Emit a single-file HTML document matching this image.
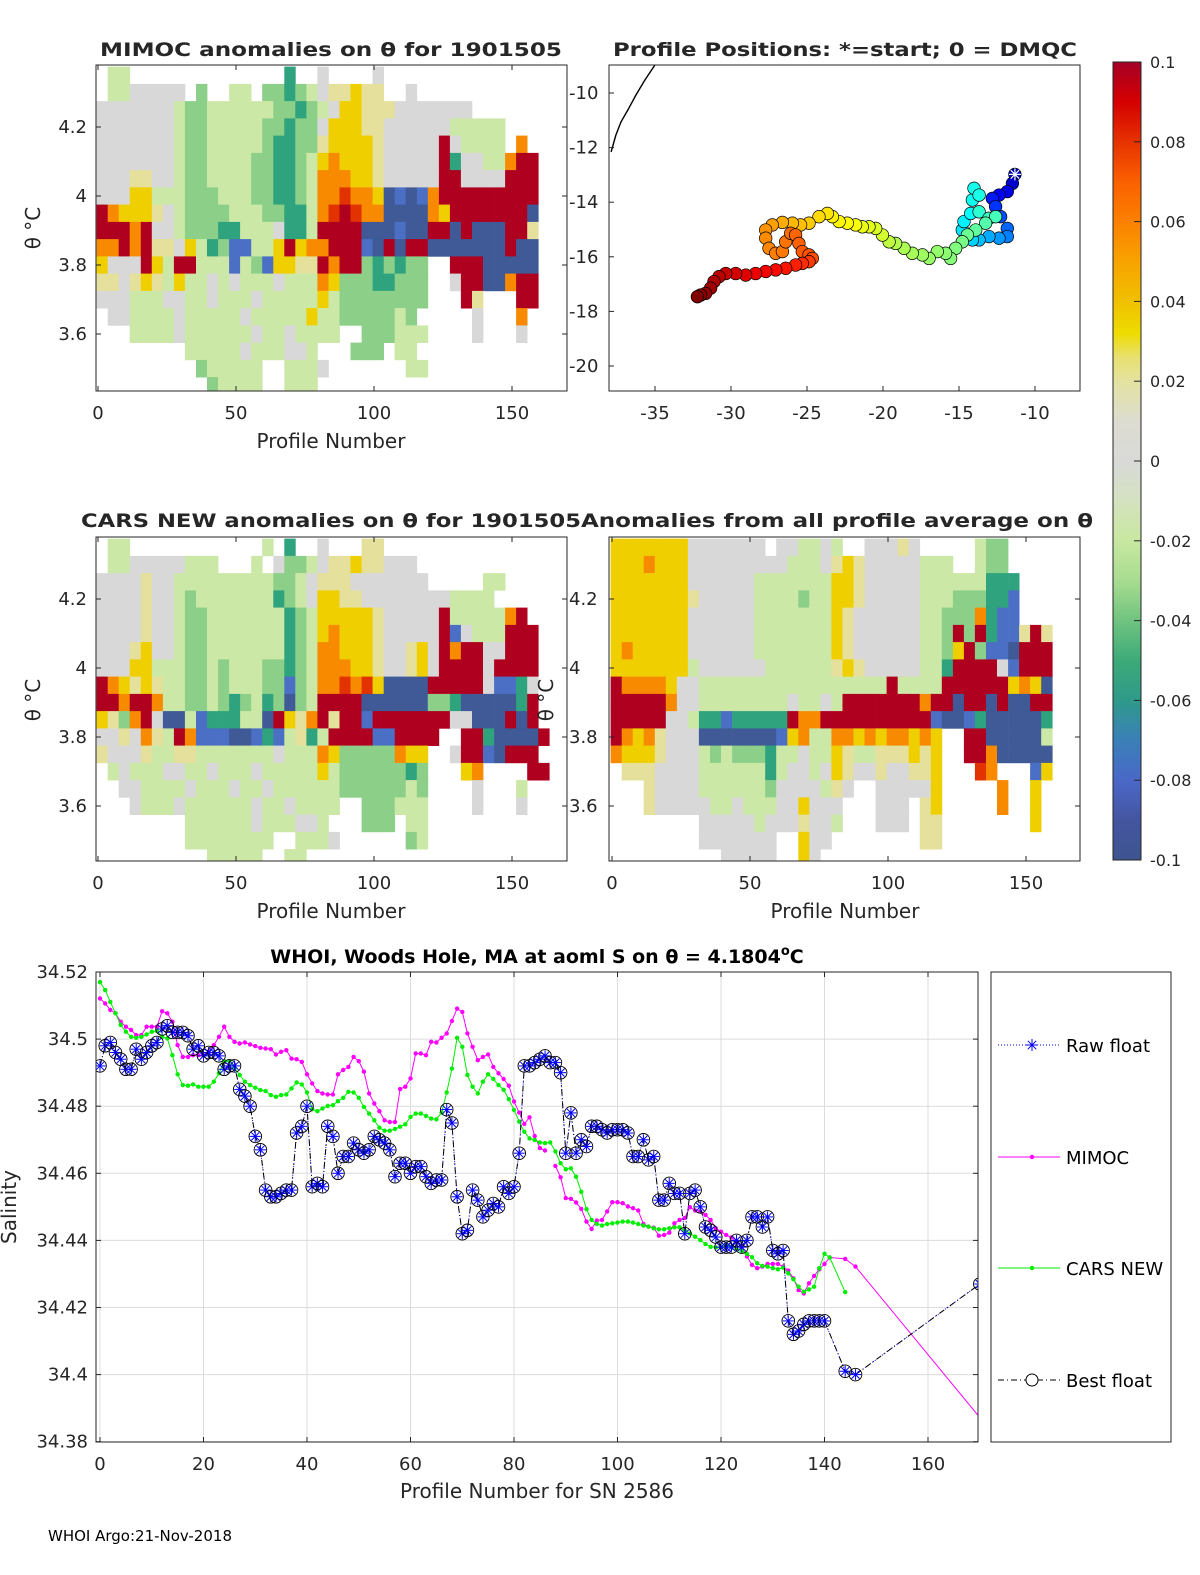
<!DOCTYPE html>
<html><head><meta charset="utf-8"><style>
html,body{margin:0;padding:0;background:#fff;}
svg{display:block;font-family:"DejaVu Sans","Liberation Sans",sans-serif;}
</style></head><body>
<svg id="fig" width="1200" height="1575" viewBox="0 0 1200 1575" xmlns="http://www.w3.org/2000/svg">
<defs>
<clipPath id="c1"><rect x="96" y="65" width="471" height="326"/></clipPath>
<clipPath id="c2"><rect x="609" y="65" width="471" height="326"/></clipPath>
<clipPath id="c3"><rect x="96" y="537" width="471" height="324"/></clipPath>
<clipPath id="c4"><rect x="609" y="537" width="471" height="324"/></clipPath>
<clipPath id="c5"><rect x="96" y="972" width="882" height="470"/></clipPath>
<linearGradient id="cbg" x1="0" y1="0" x2="0" y2="1">
<stop offset="0" stop-color="#a50026"/><stop offset="0.05" stop-color="#d40000"/><stop offset="0.1" stop-color="#e63200"/>
<stop offset="0.15" stop-color="#fb6000"/><stop offset="0.2" stop-color="#fb8000"/><stop offset="0.25" stop-color="#f8a300"/>
<stop offset="0.3" stop-color="#f0c000"/><stop offset="0.34" stop-color="#eedc00"/><stop offset="0.37" stop-color="#e8e070"/>
<stop offset="0.4" stop-color="#e4e2a0"/><stop offset="0.45" stop-color="#dcdcd0"/><stop offset="0.5" stop-color="#d9d9d9"/>
<stop offset="0.55" stop-color="#d4e2c0"/><stop offset="0.6" stop-color="#c8e8a0"/><stop offset="0.65" stop-color="#a8dc90"/>
<stop offset="0.7" stop-color="#70c480"/><stop offset="0.75" stop-color="#3daa78"/><stop offset="0.8" stop-color="#2f9a8a"/>
<stop offset="0.85" stop-color="#3a80b8"/><stop offset="0.9" stop-color="#4a68c8"/><stop offset="0.95" stop-color="#4455a0"/>
<stop offset="1" stop-color="#3e5590"/></linearGradient>
</defs>
<g id="layer"></g>
</svg>
<script>
// ---------- data: heatmap grids (rows: theta bins of 0.05 from 4.375 down; cols: 4 profiles each) ----------
const mimocGrid = [
".gg..............T..G....G..............",
".ggGGGGG.h..gg.hhThgGllYll..G...........",
"GGGGGGGghhgggggghhThgGYYlllGGGGGGG......",
"GGGGGGGghhggggghhThhGYYYllGGGGGGggggg...",
"GGGGGGGghhggggghTThhlYYYYlGGGGGRGgggg.O.",
"GGGGGGGghhgggghhTThgYOYYYlGGGGGRTGGggORR",
"GGGllGGghhgggghhTThgOOOYYlGGGGGRRGGGGRRR",
"GGGYYggghhhggghhTThgOOrOOYBbBbORRRRRRRRR",
"ROYYYlGghhhhggghhTTgOrRrOOBBBBOYRRRRRRRB",
"RRRORGGghhhTTgggGTTgRRRRBBBbBBRRBRBBBRRl",
"OOROR lGYgThbbggYRYOORRRbBRBRRBBBBBBBRBB".replace(' ','l'),
"YGGGRYgRRgggbghbYYllRORRhThThh..RRRBBBBB",
"llGlYlgYggGgGgggGgggOYhhhTThhh..GRRBBORR",
"GGGgggGGggGgggGgggggYghhhhhhhh...Rl...RR",
".GGggggGgggggGgggggYgghhhhhgh.....G...O.",
"...ggggGggggggGggGgggg..hhhggg....G...G.",
"........gggggGgggGGg...hhh.gg...........",
".........hggggg..gggG.......gg..........",
"..........hgggg..ggg...................."
];
const carsGrid = [
".gg............g.T..G...ll..............",
".ggGGGGGggg...g.GhhgGllYllGGG...........",
"GGGGlGGggggggggghhgGlllGGGGGGG.....gg...",
"GGGGlGGghgggggggThgGYYllGGGGGGGGgggg....",
"GGGGlGGghhgggggggThgYYYYYlGGGGGRgggggOR.",
"GGGGlGGghhgggggggThgYOYYYlGGGGGRbGgggRRR",
"GGGlYGGghhgggggggThgOOYYYlGGlYGRORRGGRRR",
"GGGYYggghhghggghhThgOOOYYlGGlYGRRRRGRRRR",
"ROYlYlgghhghggghhbhgOOrOrYBBBBRRRRRGbbTG",
"RRORROgghhghThgThBhgRRRRBBBBBBhhTBBBBBTR",
"YlhORGBBgbTTTggBRYlORlRRbRRRRRRRGGBBBRBR",
"GGlGOlgROb bBBbTbglTgRRRRbbRRRR..RRTBBBBR".replace(' ','b'),
"lGGGlgglLgggggggGgggOYhhhhhOYY..GRRbBRRR".replace('L','l'),
".gGgggGGggGgggGgggggYghhhhhhTh...YO....RR",
"..GGggggGgggGggGgggggghhhhhhgh....G...g.",
"...GgggGggggggGggGgggg..hhhggg....G...G.",
"........ggggggGgggGGg...hhh.gg..........",
"........gggggggg..gggG......hg..........",
"..........ggggg..gg....................."
];
const allGrid = [
"YYYYYYYGGGGGGG.GGggGg..GGGlG.....ghh....",
"YYYOYYYGGGGGGGGGgggGlYlGGGGGggg..ghh....",
"YYYYYYYGGGGGGggggggg YlGGGGGggggggTTT...".replace(' ','Y'),
"YYYYYYYlGGGGGgggghggYYlGGGGGggghhhTTb...",
"YYYYYYYGGGGGGgggggggYlGGGGGGgghhhOTbb...",
"YYYYYYYGGGGGGgggggggYlGGGGGGgghRhRTbblRl",
"YOYYYYYGGGGGGgggggggYlGGGGGGgghYRhbbBRRR",
"YYYYYYYgGGGGGGggggggl YlGGGGGggTRRRRGbRRR".replace(' ',''),
"ROOOOYGGgggggggggggggggggRggggRRRRRRYOYB",
"RRRRROGGggggggggGggGgRRRRRRROR RBRRBRBBRR".replace(' ',''),
"RRRRRGGgTTbTTTTTROORRRRRRRRRRbBBbTBBBBBT",
"ROYOlGGGBBBBBBBbYOggOOYOYOOYOY..RRBBBBBg",
"OYYYlGGGghghhhTggGggYlgglllYlY..RROBBBBB",
".lllGGGGggggggTgGGgGYlGGlGGllY...rO...bY",
"...lGGGGggggggh GGGGglG..GGGGGY.....O..Y.".replace(' ',''),
"...lGGGGGggGgggGGYGGG...GGGllY.....O..Y.".replace('llY','.lY'),
"........GGGGGgGGGlGGg...GGG.ll........Y.",
"........GGGGGGG..YGG........ll..........",
"..........GGGGG..YG....................."
];
const cellColors = {R:"#b00020",r:"#e23200",O:"#f88a00",Y:"#f0cf00",l:"#e5e09c",G:"#d8d8d8",g:"#cce8a6",h:"#8ccf88",T:"#2fa37e",b:"#4a6fc4",B:"#3f5a96"};
const heatTicksX = [0,50,100,150];
const heatTicksY = [3.6,3.8,4.0,4.2];
const heatTickLabelsY = ["3.6","3.8","4","4.2"];

// ---------- data: map ----------
const trackLon = [-11.32,-11.49,-11.82,-12.37,-12.81,-12.59,-12.26,-11.82,-11.82,-12.37,-13.03,-13.68,-14.12,-14.78,-14.67,-14.23,-14.12,-14.01,-13.68,-13.68,-13.03,-12.59,-13.25,-13.90,-14.45,-14.78,-15.22,-15.55,-15.88,-16.43,-16.97,-17.41,-18.07,-18.62,-19.17,-19.60,-20.04,-20.48,-20.92,-21.36,-21.80,-22.35,-22.89,-23.33,-23.66,-24.21,-24.87,-25.42,-25.96,-26.62,-27.28,-27.72,-27.72,-27.50,-27.06,-26.62,-26.40,-26.07,-25.75,-25.53,-25.31,-24.87,-24.65,-24.87,-25.31,-25.75,-26.40,-27.06,-27.72,-28.38,-29.03,-29.69,-30.35,-30.79,-31.12,-31.34,-31.67,-32.00,-32.21];
const trackLat = [-12.98,-13.31,-13.61,-13.74,-13.86,-14.16,-14.53,-14.96,-15.26,-15.32,-15.26,-15.38,-15.38,-15.02,-14.71,-14.41,-13.92,-13.49,-13.74,-14.35,-14.59,-14.53,-14.77,-15.02,-15.20,-15.45,-15.69,-16.06,-15.87,-15.81,-16.06,-15.93,-15.87,-15.69,-15.51,-15.45,-15.20,-14.96,-14.90,-14.90,-14.83,-14.77,-14.71,-14.53,-14.41,-14.53,-14.77,-14.83,-14.77,-14.74,-14.83,-15.02,-15.32,-15.69,-15.87,-15.81,-15.45,-15.14,-15.20,-15.51,-15.81,-15.93,-16.06,-16.18,-16.24,-16.30,-16.42,-16.48,-16.54,-16.61,-16.67,-16.61,-16.61,-16.73,-16.91,-17.15,-17.34,-17.40,-17.46];
const trackProfile = [8,12,16,20,24,28,32,36,40,44,47,50,53,
56,58,60,62,63,64,
67,69,71,73,75,77,79,
80,81,82,83,84,85,86,87,88,90,
93,94,96,97,99,100,101,102,104,
106,108,110,111,113,115,
117,118,119,120,121,122,123,124,125,126,127,128,
131,133,135,137,139,141,143,145,147,149,151,153,155,157,159,160];
const coastLon = [-35.0,-35.66,-36.25,-36.78,-37.24,-37.57,-37.89];
const coastLat = [-8.97,-9.52,-10.07,-10.62,-11.06,-11.54,-12.16];
const mapTicksX = [-35,-30,-25,-20,-15,-10];
const mapTicksY = [-10,-12,-14,-16,-18,-20];

// ---------- data: colorbar ----------
const cbTicks = [0.1,0.08,0.06,0.04,0.02,0,-0.02,-0.04,-0.06,-0.08,-0.1];
const cbLabels = ["0.1","0.08","0.06","0.04","0.02","0","-0.02","-0.04","-0.06","-0.08","-0.1"];

// ---------- data: salinity time series ----------
const bestS = [34.492,34.498,34.499,34.496,34.494,34.491,34.491,34.497,34.494,34.496,34.498,34.499,34.503,34.504,34.502,34.502,34.502,34.501,34.497,34.498,34.495,34.496,34.496,34.495,34.491,34.492,34.492,
34.485,34.483,34.480,34.471,34.467,34.455,34.453,34.453,34.454,34.455,34.455,34.472,34.474,34.480,34.456,34.457,34.456,34.474,34.471,34.460,34.465,34.465,34.469,34.467,34.466,34.467,34.471,34.470,34.469,34.467,34.459,34.463,34.463,34.460,34.462,34.462,34.459,34.457,34.458,34.458,34.479,34.475,34.453,34.442,34.443,34.455,34.452,34.447,34.449,34.451,34.450,34.456,34.454,34.456,34.466,34.492,34.492,34.493,34.494,34.495,34.493,34.493,34.490,34.466,34.478,34.466,34.470,34.468,34.474,34.474,34.473,34.472,34.473,34.473,34.473,34.472,34.465,34.465,34.470,34.464,34.465,34.452,34.452,34.457,34.454,34.454,34.442,34.454,34.455,34.450,34.444,34.443,34.441,34.438,34.438,34.438,34.440,34.438,34.440,34.447,34.447,34.444,34.447,34.437,34.436,34.437,34.416,34.412,34.413,34.415,34.416,34.416,34.416,34.416];
const bestTailP = [144,146,170];
const bestTailS = [34.401,34.400,34.427];
const mimocS = [34.5121,34.5106,34.5087,34.5077,34.5052,34.5037,34.5027,34.5012,34.5012,34.5037,34.5037,34.5037,34.5083,34.5077,34.5052,34.4982,34.4947,34.4947,34.4952,34.4952,34.4952,34.4962,34.4982,34.5007,34.5037,34.5007,34.4992,34.4987,34.4990,34.4984,34.4979,34.4974,34.4972,34.4970,34.4954,34.4962,34.4967,34.4942,34.4940,34.4932,34.4895,34.4868,34.4845,34.4838,34.4835,34.4835,34.4895,34.4908,34.4917,34.4947,34.4934,34.4903,34.4838,34.4808,34.4785,34.4758,34.4753,34.4753,34.4851,34.4858,34.4883,34.4957,34.4957,34.4952,34.4992,34.4990,34.5004,34.5017,34.5054,34.5091,34.5081,34.5017,34.4977,34.4937,34.4947,34.4954,34.4917,34.4898,
34.4881,34.4861,34.4814,34.4781,34.4747,34.4767,34.4711,34.4675,34.4668,null,34.4622,34.4588,34.4526,34.4524,34.4513,34.4494,34.4456,34.4434,34.4459,34.4461,34.4486,34.4514,34.4514,34.4511,34.4501,34.4496,34.4489,34.4449,34.4441,34.4438,34.4414,34.4416,34.4423,34.4451,34.4461,34.4467,34.4499,34.4489,34.4486,34.4476,34.4461,34.4436,34.4426,34.4416,34.4409,34.4396,34.4379,34.4352,34.4327,34.4317,34.4322,34.4330,34.4330,34.4330,34.4322,34.4310,34.4287,34.4252,34.4242,34.4272,34.4294,34.4314,34.4330,34.4349];
const mimocTailP = [144,146,170];
const mimocTailS = [34.4345,34.4322,34.3872];
const carsS = [34.517,34.5146,34.5111,34.5077,34.5042,34.5022,34.5007,34.5004,34.5007,34.5014,34.5022,34.5024,34.5007,34.5002,34.4952,34.4895,34.4863,34.4861,34.4865,34.4858,34.4858,34.4858,34.4873,34.4898,34.4934,34.4934,34.4914,34.4893,34.4873,34.4863,34.4855,34.4848,34.4845,34.4833,34.4828,34.4833,34.4835,34.4853,34.4871,34.4865,34.4841,34.4791,34.4785,34.4793,34.4801,34.4803,34.4815,34.4825,34.4843,34.4841,34.4825,34.4798,34.4778,34.4758,34.4736,34.4727,34.4727,34.4732,34.4739,34.4746,34.4768,34.4778,34.4778,34.4771,34.4763,34.4761,34.4781,34.4841,34.4912,34.5004,34.4977,34.4893,34.4858,34.4838,34.4873,34.4895,34.4881,34.4863,
34.4849,34.4821,34.4789,34.4754,34.4724,34.4704,34.4699,34.4692,34.4690,34.4692,34.4665,34.4630,34.4612,34.4615,34.4590,34.4545,34.4493,34.4461,34.4449,34.4444,34.4449,34.4451,34.4453,34.4456,34.4456,34.4453,34.4449,34.4444,34.4441,34.4436,34.4433,34.4433,34.4436,34.4439,34.4439,34.4429,34.4421,34.4411,34.4401,34.4389,34.4381,34.4379,34.4379,34.4386,34.4381,34.4376,34.4369,34.4360,34.4350,34.4332,34.4324,34.4322,34.4317,34.4314,34.4319,34.4302,34.4284,34.4262,34.4247,34.4254,34.4262,34.4317,34.4360,34.4349];
const carsTailP = [144];
const carsTailS = [34.4246];
const salTicksX = [0,20,40,60,80,100,120,140,160];
const salTicksY = [34.38,34.40,34.42,34.44,34.46,34.48,34.50,34.52];
const salTickLabelsY = ["34.38","34.4","34.42","34.44","34.46","34.48","34.5","34.52"];

// ---------- drawing ----------
const NS = "http://www.w3.org/2000/svg";
const root = document.getElementById('layer');
function mk(tag, attrs, parent){
  const e = document.createElementNS(NS, tag);
  for (const k in attrs) e.setAttribute(k, attrs[k]);
  (parent||root).appendChild(e);
  return e;
}
function txt(str, x, y, size, opts, parent){
  opts = opts||{};
  const t = mk('text', {x:x, y:y, 'font-size':size, fill:'#262626', 'text-anchor':opts.anchor||'start'}, parent);
  if (opts.weight) t.setAttribute('font-weight', opts.weight);
  if (opts.rot) t.setAttribute('transform', 'rotate(-90 '+x+' '+y+')');
  if (opts.len) { t.setAttribute('textLength', opts.len); t.setAttribute('lengthAdjust','spacingAndGlyphs'); }
  t.textContent = str;
  return t;
}

function heatPanel(name, grid, clip, box, xS, yS, showYLeft, ylabX, ylabY){
  const g = mk('g', {'clip-path':'url(#'+clip+')'});
  
  
  grid.forEach((row, i) => {
    const tTop = 4.375 - 0.05*i, tBot = tTop - 0.05;
    for (let c = 0; c < row.length; c++) {
      const ch = row[c];
      if (!cellColors[ch]) continue;
      const x0 = xS(4*c - 0.5), x1 = xS(4*c + 3.5);
      const r = mk('rect', {x:x0.toFixed(1), y:yS(tTop).toFixed(1), width:(x1-x0+0.4).toFixed(1), height:(yS(tBot)-yS(tTop)+0.4).toFixed(1), fill:cellColors[ch]}, g);
      
      
    }
  });
  axesBox(name, box);
  heatTicksX.forEach(v => {
    const x = xS(v);
    mk('line', {x1:x, x2:x, y1:box.y+box.h, y2:box.y+box.h-5, stroke:'#262626', 'stroke-width':1});
    mk('line', {x1:x, x2:x, y1:box.y, y2:box.y+5, stroke:'#262626', 'stroke-width':1});
    const t = txt(String(v), x, box.y+box.h+28, 18, {anchor:'middle'});
    
    
  });
  heatTicksY.forEach((v, k) => {
    const y = yS(v);
    mk('line', {x1:box.x, x2:box.x+5, y1:y, y2:y, stroke:'#262626', 'stroke-width':1});
    mk('line', {x1:box.x+box.w, x2:box.x+box.w-5, y1:y, y2:y, stroke:'#262626', 'stroke-width':1});
    const t = showYLeft ? txt(heatTickLabelsY[k], box.x-9, y+6, 18, {anchor:'end'}) : txt(heatTickLabelsY[k], box.x-40, y+6, 18, {anchor:'start'});
    
    
  });
  const yl = txt('θ °C', ylabX, ylabY, 20, {anchor:'middle', rot:true});
  
  
}
function axesBox(name, box){
  const r = mk('rect', {x:box.x, y:box.y, width:box.w, height:box.h, fill:'none', stroke:'#262626', 'stroke-width':1});
  
  
}

// panel 1: MIMOC
const xS1 = p => 98 + 2.76*p;
const yS1 = t => 127 + (4.2 - t)*345;
heatPanel('mimoc', mimocGrid, 'c1', {x:96,y:65,w:471,h:326}, xS1, yS1, true, 40, 228);
// panel 3: CARS
const yS3 = t => 599 + (4.2 - t)*345;
heatPanel('cars', carsGrid, 'c3', {x:96,y:537,w:471,h:324}, xS1, yS3, true, 40, 700);
// panel 4: all-profile average
const xS4 = p => 612 + 2.76*p;
heatPanel('all-average', allGrid, 'c4', {x:609,y:537,w:471,h:324}, xS4, yS3, false, 553, 700);

// titles & x labels
[['mimoc-title','MIMOC anomalies on θ  for 1901505',331,56,462],
 ['map-title','Profile Positions: *=start; 0 = DMQC',845,56,464],
 ['cars-title','CARS NEW anomalies on θ for 1901505',331,527,500],
 ['all-average-title','Anomalies from all profile average on θ',837,527,512]].forEach(a=>{
  const t = txt(a[1], a[2], a[3], 19, {anchor:'middle', weight:'bold', len:a[4]});
  
  
});
[['mimoc-x-axis-title',331,448],['cars-x-axis-title',331,918],['all-average-x-axis-title',845,918]].forEach(a=>{
  const t = txt('Profile Number', a[1], a[2], 20, {anchor:'middle'});
  
  
});

// panel 2: map
const lonS = lon => 655 + (lon + 35)*15.2;
const latS = lat => 93 + (-10 - lat)*27.3;
const mapBox = {x:609,y:65,w:471,h:326};
const mg = mk('g', {'clip-path':'url(#c2)'});


const coast = mk('polyline', {points: coastLon.map((v,i)=>lonS(v).toFixed(1)+','+latS(coastLat[i]).toFixed(1)).join(' '), fill:'none', stroke:'#000', 'stroke-width':1.4}, mg);


function jet(t){
  const f = x => Math.max(0, Math.min(1, x));
  const r = f(Math.min(4*t - 1.5, -4*t + 4.5));
  const g = f(Math.min(4*t - 0.5, -4*t + 3.5));
  const b = f(Math.min(4*t + 0.5, -4*t + 2.5));
  return 'rgb('+Math.round(r*255)+','+Math.round(g*255)+','+Math.round(b*255)+')';
}
const maxProf = 160;
trackLon.forEach((lon, i) => {
  const c = mk('circle', {cx:lonS(lon).toFixed(1), cy:latS(trackLat[i]).toFixed(1), r:6.3, fill:jet(trackProfile[i]/maxProf), stroke:'#000', 'stroke-width':0.7}, mg);
  
  
});
{
  const sx = lonS(trackLon[0]), sy = latS(trackLat[0]);
  const st = mk('g', {stroke:'#fff', 'stroke-width':1.2}, mg);
  
  
  [[0,6],[6,0],[4.2,4.2],[4.2,-4.2]].forEach(d=>mk('line',{x1:sx-d[0],y1:sy-d[1],x2:sx+d[0],y2:sy+d[1]},st));
}
axesBox('map', mapBox);
mapTicksX.forEach(v => {
  const x = lonS(v);
  mk('line', {x1:x, x2:x, y1:391, y2:386, stroke:'#262626'});
  const t = txt(String(v), x, 419, 18, {anchor:'middle'});
  
  
});
mapTicksY.forEach(v => {
  const y = latS(v);
  mk('line', {x1:609, x2:614, y1:y, y2:y, stroke:'#262626'});
  const t = txt(String(v), 569, y+6, 18, {anchor:'start'});
  
  
});

// colorbar
const cbY = v => 62 + (0.1 - v)*3990;
const cb = mk('rect', {x:1113, y:62, width:28, height:798, fill:'url(#cbg)', stroke:'#262626', 'stroke-width':1});


cbTicks.forEach((v,k) => {
  const y = cbY(v);
  mk('line', {x1:1134, x2:1141, y1:y, y2:y, stroke:'#262626'});
  const t = txt(cbLabels[k], 1150, y+6, 16, {});
  
  
});

// bottom salinity chart
const xS5 = p => 100 + 5.175*p;
const yS5 = s => 972 + (34.52 - s)*3355;
const box5 = {x:96,y:972,w:882,h:470};
const grid5 = mk('g', {stroke:'#dcdcdc', 'stroke-width':1});


salTicksX.forEach(v => mk('line', {x1:xS5(v), x2:xS5(v), y1:972, y2:1442}, grid5));
salTicksY.forEach(v => mk('line', {x1:96, x2:978, y1:yS5(v), y2:yS5(v)}, grid5));
const sg = mk('g', {'clip-path':'url(#c5)'});


function seriesPts(vals, tailP, tailS){
  const segs = []; let cur = [];
  vals.forEach((v,i) => { if (v === null) { if (cur.length) segs.push(cur); cur = []; } else cur.push([xS5(i), yS5(v)]); });
  tailP.forEach((p,k) => cur.push([xS5(p), yS5(tailS[k])]));
  if (cur.length) segs.push(cur);
  return segs;
}
function drawLine(name, segs, color, dash, width){
  segs.forEach(seg => {
    const l = mk('polyline', {points: seg.map(q=>q[0].toFixed(1)+','+q[1].toFixed(1)).join(' '), fill:'none', stroke:color, 'stroke-width':width||1}, sg);
    if (dash) l.setAttribute('stroke-dasharray', dash);
    
    
  });
}
const mimocSegs = seriesPts(mimocS, mimocTailP, mimocTailS);
drawLine('mimoc', mimocSegs, '#ff00ff');
mimocSegs.flat().forEach(q => {
  const c = mk('circle', {cx:q[0].toFixed(1), cy:q[1].toFixed(1), r:2.2, fill:'#ff00ff'}, sg);
  
  
});
const carsSegs = seriesPts(carsS, carsTailP, carsTailS);
drawLine('cars', carsSegs, '#00ee00');
carsSegs.flat().forEach(q => {
  const c = mk('circle', {cx:q[0].toFixed(1), cy:q[1].toFixed(1), r:2.2, fill:'#00ee00'}, sg);
  
  
});
const bestSegs = seriesPts(bestS, bestTailP, bestTailS);
drawLine('raw-float', bestSegs, '#0000ff', '1,2');
drawLine('best-float', bestSegs, '#000', '6,3,1,3');
bestSegs.flat().forEach(q => {
  const m = mk('g', {}, sg);
  
  
  mk('circle', {cx:q[0].toFixed(1), cy:q[1].toFixed(1), r:6.3, fill:'none', stroke:'#000', 'stroke-width':0.9}, m);
  const a = mk('g', {stroke:'#0000ff', 'stroke-width':1}, m);
  [[0,5.5],[5.5,0],[4,4],[4,-4]].forEach(d=>mk('line',{x1:q[0]-d[0],y1:q[1]-d[1],x2:q[0]+d[0],y2:q[1]+d[1]},a));
});
axesBox('salinity', box5);
salTicksX.forEach(v => {
  const x = xS5(v);
  mk('line', {x1:x, x2:x, y1:1442, y2:1437, stroke:'#262626'});
  mk('line', {x1:x, x2:x, y1:972, y2:977, stroke:'#262626'});
  const t = txt(String(v), x, 1470, 18, {anchor:'middle'});
  
  
});
salTicksY.forEach((v,k) => {
  const y = yS5(v);
  mk('line', {x1:96, x2:101, y1:y, y2:y, stroke:'#262626'});
  mk('line', {x1:978, x2:973, y1:y, y2:y, stroke:'#262626'});
  const t = txt(salTickLabelsY[k], 88, y+6, 18, {anchor:'end'});
  
  
});
</script>
<script>
(function(){
  const NS="http://www.w3.org/2000/svg";
  const root=document.getElementById('layer');
  function el(tag,a,p){const e=document.createElementNS(NS,tag);for(const k in a)e.setAttribute(k,a[k]);(p||root).appendChild(e);return e;}
  const tt = el('text',{x:537,y:963,'font-size':19,'font-weight':'bold','text-anchor':'middle',fill:'#000'});
  
  
  tt.appendChild(document.createTextNode('WHOI, Woods Hole, MA at aoml S on θ = 4.1804'));
  const sup = el('tspan',{dy:-8,'font-size':13},tt); sup.textContent='o';
  const c = el('tspan',{dy:8},tt); c.textContent='C';
  const xl = el('text',{x:537,y:1498,'font-size':20,'text-anchor':'middle',fill:'#262626'});
  
  
  xl.textContent='Profile Number for SN 2586';
  const yl = el('text',{x:16,y:1207,'font-size':20,'text-anchor':'middle',fill:'#262626',transform:'rotate(-90 16 1207)'});
  
  
  yl.textContent='Salinity';
  const ft = el('text',{x:48,y:1541,'font-size':15,fill:'#000'});
  
  
  ft.textContent='WHOI Argo:21-Nov-2018';
  const lg = el('g',{});
  
  
  const lb = el('rect',{x:991,y:972,width:180,height:470,fill:'#fff',stroke:'#262626','stroke-width':1},lg);
  
  
  const entries=[['Raw float','#0000ff','1,2',1045,'star'],['MIMOC','#ff00ff','',1157,'dot'],['CARS NEW','#00ee00','',1268,'dot'],['Best float','#000','6,3,1,3',1380,'circle']];
  entries.forEach(e=>{
    const g=el('g',{},lg);
    
    
    const l=el('line',{x1:998,x2:1060,y1:e[3],y2:e[3],stroke:e[1],'stroke-width':1},g);
    if(e[2]) l.setAttribute('stroke-dasharray',e[2]);
    if(e[4]==='dot') el('circle',{cx:1032,cy:e[3],r:2.2,fill:e[1]},g);
    if(e[4]==='circle') el('circle',{cx:1032,cy:e[3],r:6,fill:'#fff',stroke:'#000'},g);
    if(e[4]==='star'){[[0,6],[6,0],[4.2,4.2],[4.2,-4.2]].forEach(d=>el('line',{x1:1032-d[0],y1:e[3]-d[1],x2:1032+d[0],y2:e[3]+d[1],stroke:'#0000ff'},g));}
    const t=el('text',{x:1066,y:e[3]+7,'font-size':18,fill:'#000'},g);
    t.textContent=e[0];
  });
})();
</script>
</body></html>
